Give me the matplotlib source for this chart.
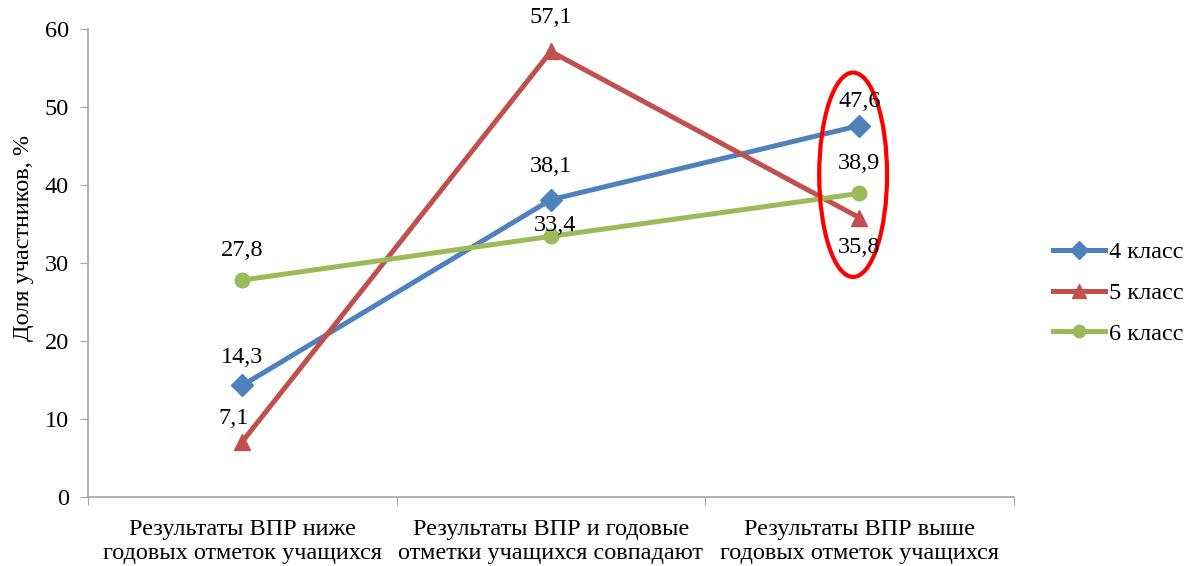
import matplotlib.pyplot as plt
from matplotlib.patches import Ellipse

categories = ['Результаты ВПР ниже\nгодовых отметок учащихся',
              'Результаты ВПР и годовые\nотметки учащихся совпадают',
              'Результаты ВПР выше\nгодовых отметок учащихся']
series_names = ['4 класс', '5 класс', '6 класс']
values_4 = [14.3, 38.1, 47.6]
values_5 = [7.1, 57.1, 35.8]
values_6 = [27.8, 33.4, 38.9]

plt.rcParams['font.family'] = ['Liberation Serif', 'DejaVu Serif']
FS = 17.5

fig = plt.figure(figsize=(11.91, 5.66), dpi=100)
ax = fig.add_axes([0.074, 0.122, 0.777, 0.827])

x = list(range(len(categories)))
# (valores, cor, marcador, tamanho, deslocamentos dos rótulos em pixels)
estilos = [
    (values_4, '#4F81BD', 'D', 11, [(0, 28), (0, 33), (0, 24)]),
    (values_5, '#C0504D', '^', 12, [(-9, 23), (0, 34), (0, -30)]),
    (values_6, '#9BBB59', 'o', 10.5, [(0, 30), (4, 11), (0, 30)]),
]
for (vals, cor, marca, tam, _), nome in zip(estilos, series_names):
    ax.plot(x, vals, color=cor, marker=marca, markersize=tam, lw=3.6, label=nome)

# rótulos dos dados
for vals, cor, marca, tam, desl in estilos:
    for i, v in enumerate(vals):
        dx, dy = desl[i]
        ax.annotate(f'{v:.1f}'.replace('.', ','), (i, v), xytext=(dx * 0.72, dy * 0.72),
                    textcoords='offset points', ha='center', va='center', fontsize=FS,
                    zorder=6)

# elipse vermelha
ax.add_patch(Ellipse((1.98, 41.3), 0.22, 26.2, fill=False, ec='#FF0000', lw=3, zorder=5))

ax.set_xlim(-0.5, 2.5)
ax.set_ylim(0, 60)
ax.set_yticks(range(0, 61, 10))
ax.set_xticks([-0.5, 0.5, 1.5, 2.5], minor=False)
ax.set_xticklabels([])
ax.set_xticks(x, minor=True)
ax.set_xticklabels(categories, minor=True, fontsize=FS, linespacing=1.15)
ax.tick_params(axis='x', which='minor', length=0, pad=16)
ax.tick_params(axis='x', which='major', length=6, color='#A6A6A6')
ax.tick_params(axis='y', length=6, color='#A6A6A6', labelsize=FS, pad=8)
for s in ['top', 'right']:
    ax.spines[s].set_visible(False)
for s in ['left', 'bottom']:
    ax.spines[s].set_color('#A6A6A6')
    ax.spines[s].set_linewidth(1.2)
ax.set_ylabel('Доля участников, %', fontsize=FS)
ax.yaxis.set_label_coords(-0.058, 0.553)

ax.legend(loc='center left', bbox_to_anchor=(0.884, 1 - 293 / 566),
          bbox_transform=fig.transFigure, frameon=False, fontsize=FS,
          borderpad=0, borderaxespad=0, handlelength=2.15, labelspacing=0.78,
          handletextpad=0.15, markerscale=0.85)

fig.savefig('out.png', dpi=100)
